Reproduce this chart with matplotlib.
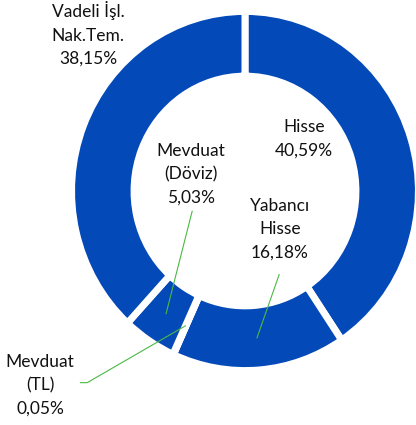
import numpy as np
import matplotlib
matplotlib.use("Agg")
import matplotlib.pyplot as plt

# ---- data ----
categories = ["Hisse", "Yabancı\nHisse", "Mevduat\n(TL)", "Mevduat\n(Döviz)", "Vadeli İşl.\nNak.Tem."]
values = [40.59, 16.18, 0.05, 5.03, 38.15]
value_labels = ["40,59%", "16,18%", "0,05%", "5,03%", "38,15%"]

# ---- layout / style ----
BLUE = "#0349B8"
GREEN = "#4CB944"
# label block centres (data units, donut centre at 0,0, outer radius 1)
label_pos = [(0.347, 0.298), (0.206, -0.216), (-1.206, -1.102), (-0.318, 0.097), (-0.924, 0.892)]
# leader start points near the label (None = no leader)
leader_start = [None, [(0.202, -0.472)], [(-0.971, -1.089), (-0.928, -1.089)], [(-0.31, -0.112)], None]

plt.rcParams["font.family"] = ["Lato", "DejaVu Sans"]

fig = plt.figure(figsize=(4.16, 4.25), dpi=100)
ax = fig.add_axes([0, 0, 1, 1])

lw_px = 7.0
radius = 1 + (lw_px / 2) / 172
width = (57 + lw_px) / 174
wedges, _ = ax.pie(values, radius=radius, startangle=90, counterclock=False,
                   colors=[BLUE] * len(values),
                   wedgeprops=dict(width=width, edgecolor="white", linewidth=lw_px * 0.72))

ax.set_aspect("auto")
ax.set_xlim(-245 / 170, (416 - 245) / 170)
ax.set_ylim((191 - 425) / 176, 191 / 176)
ax.axis("off")

mid_r = 0.84
for i, w in enumerate(wedges):
    txt = f"{categories[i]}\n{value_labels[i]}"
    ax.text(label_pos[i][0], label_pos[i][1], txt, ha="center", va="center",
            fontsize=12.5, color="#111111", linespacing=1.55)
    if leader_start[i] is not None:
        ang = np.deg2rad((w.theta1 + w.theta2) / 2)
        end = (mid_r * np.cos(ang), mid_r * np.sin(ang))
        pts = leader_start[i] + [end]
        xs, ys = zip(*pts)
        ax.plot(xs, ys, color=GREEN, lw=0.8, solid_capstyle="butt")

fig.savefig("out.png", dpi=100)
